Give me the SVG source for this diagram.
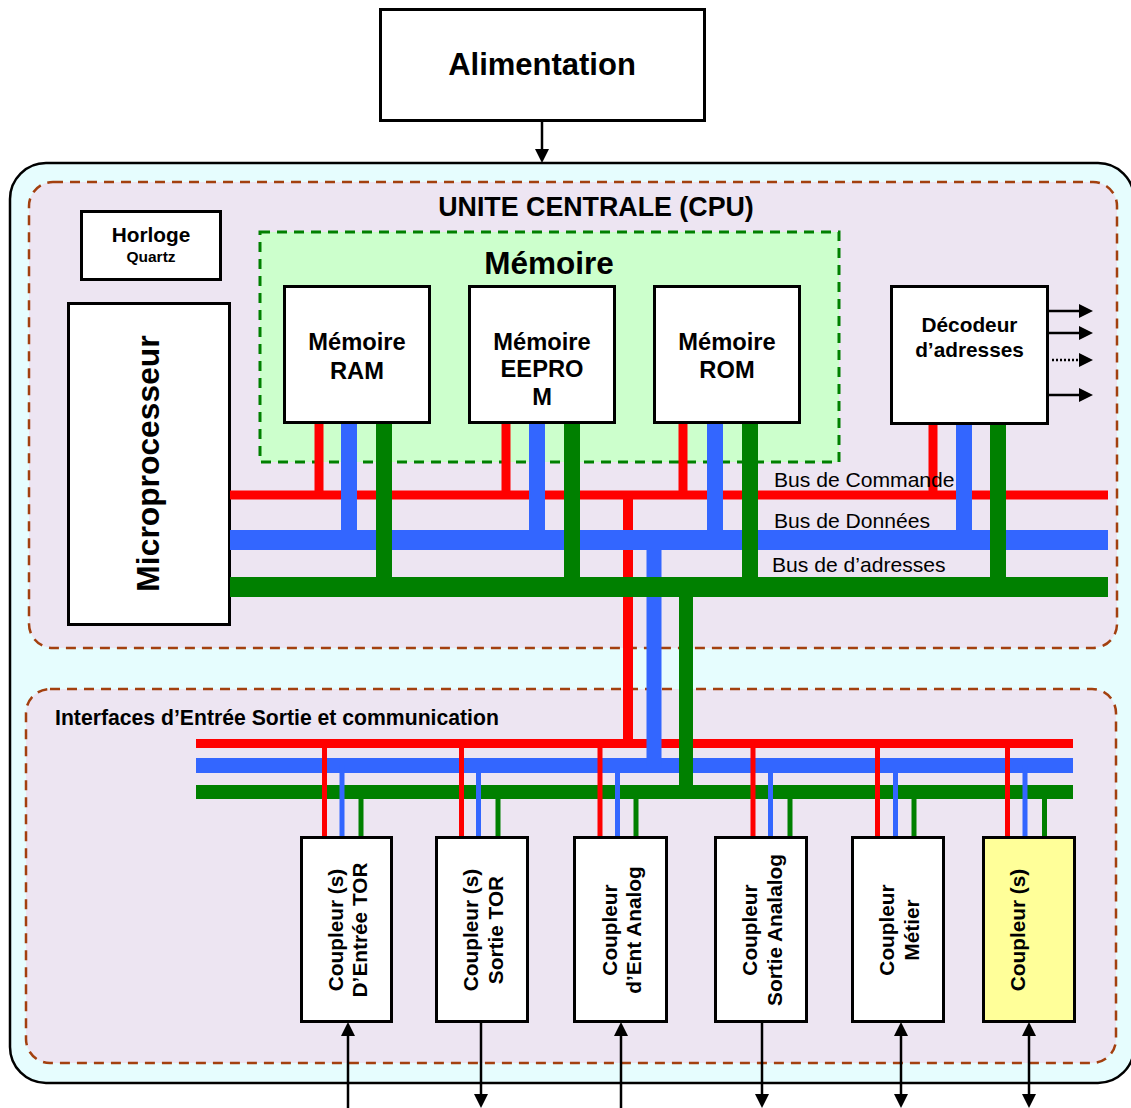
<svg xmlns="http://www.w3.org/2000/svg" width="1131" height="1108" viewBox="0 0 1131 1108">
  <defs>
    <marker id="head" viewBox="0 0 14 14" refX="1" refY="7" markerWidth="14" markerHeight="14" markerUnits="userSpaceOnUse" orient="auto-start-reverse">
      <path d="M0,0 L14,7 L0,14 z" fill="#000"/>
    </marker>
    <style>
      text { font-family: "Liberation Sans", Arial, sans-serif; fill: #000; }
      .b { font-weight: bold; }
      .mid { text-anchor: middle; }
      .box { fill: #fff; stroke: #000; stroke-width: 3; }
      .zone { fill: #EDE5F2; stroke: #A3400F; stroke-width: 2.5; stroke-dasharray: 10 7; }
      .arrow { fill: none; stroke: #000; stroke-width: 2.5; marker-end: url(#head); }
      .both { marker-start: url(#head); }
      .r { stroke: #FF0000; fill: none; }
      .bl { stroke: #3366FF; fill: none; }
      .g { stroke: #008000; fill: none; }
    </style>
  </defs>

  <rect width="1131" height="1108" fill="#fff"/>

  <!-- power supply -->
  <g id="alimentation">
    <rect class="box" x="380.5" y="9.5" width="324" height="111" stroke-width="2.5"/>
    <text class="b mid" x="542" y="75" font-size="31">Alimentation</text>
  </g>

  <!-- outer frame of the controller -->
  <g id="automate">
    <rect x="10" y="163" width="1124" height="920" rx="36" fill="#E6FDFE" stroke="#000" stroke-width="2.5"/>
  </g>

  <!-- central unit zone -->
  <g id="unite-centrale">
    <rect class="zone" x="29" y="182" width="1088" height="466" rx="24"/>
    <text class="b mid" x="596" y="216" font-size="26.8">UNITE CENTRALE (CPU)</text>
  </g>

  <!-- I/O zone -->
  <g id="interfaces">
    <rect class="zone" x="26" y="689" width="1090" height="374" rx="24"/>
    <text class="b" x="55" y="725" font-size="21.2">Interfaces d’Entrée Sortie et communication</text>
  </g>

  <g id="horloge">
    <rect class="box" x="81.5" y="211.5" width="139" height="68"/>
    <text class="b mid" x="151" y="242" font-size="20.8">Horloge</text>
    <text class="b mid" x="151" y="262" font-size="15.5">Quartz</text>
  </g>

  <g id="memoire">
    <rect x="260" y="232" width="579" height="230" fill="#CCFFCC" stroke="#008000" stroke-width="3" stroke-dasharray="10 7"/>
    <text class="b mid" x="549" y="274" font-size="31.5">Mémoire</text>
  </g>

  <g id="microprocesseur">
    <rect class="box" x="68.5" y="303.5" width="161" height="321"/>
    <text class="b mid" font-size="31.8" transform="translate(159 463.5) rotate(-90)">Microprocesseur</text>
  </g>

  <!-- bus wiring -->
  <g id="connecteurs">
    <!-- I/O buses -->
    <line class="r" x1="196" y1="743.5" x2="1073" y2="743.5" stroke-width="9"/>
    <line class="bl" x1="196" y1="765.5" x2="1073" y2="765.5" stroke-width="15"/>
    <line class="g" x1="196" y1="792" x2="1073" y2="792" stroke-width="14"/>

    <!-- coupler taps -->
    <g stroke-width="5">
      <path class="r" d="M324.5,743 V837 M461.5,743 V837 M600,743 V837 M753,743 V837 M877.5,743 V837 M1007.5,743 V837"/>
      <path class="bl" d="M342,765 V837 M478.5,765 V837 M617.5,765 V837 M770.5,765 V837 M895.5,765 V837 M1025,765 V837"/>
      <path class="g" d="M361,792 V837 M498,792 V837 M636,792 V837 M790,792 V837 M914,792 V837 M1044.5,792 V837"/>
    </g>

    <!-- links between CPU buses and I/O buses -->
    <line class="r" x1="628" y1="495" x2="628" y2="744" stroke-width="10"/>
    <line class="bl" x1="654" y1="540" x2="654" y2="766" stroke-width="15"/>
    <line class="g" x1="686" y1="587" x2="686" y2="786" stroke-width="14"/>

    <!-- CPU buses -->
    <line class="r" x1="230" y1="495" x2="1108" y2="495" stroke-width="9"/>
    <line class="bl" x1="230" y1="540" x2="1108" y2="540" stroke-width="20"/>
    <line class="g" x1="230" y1="587" x2="1108" y2="587" stroke-width="20"/>

    <!-- memory and decoder taps -->
    <path class="r" stroke-width="9" d="M319,423 V496 M506,423 V496 M683,423 V496 M933,423 V496"/>
    <path class="bl" stroke-width="16" d="M349,423 V541 M537,423 V541 M715,423 V541 M964,423 V541"/>
    <path class="g" stroke-width="16" d="M384,423 V588 M572,423 V588 M750,423 V588 M998,423 V588"/>

    <!-- decoder outputs -->
    <path class="arrow" stroke-width="2" d="M1048,311 H1080"/>
    <path class="arrow" stroke-width="2" d="M1048,333 H1080"/>
    <path class="arrow" stroke-width="2" stroke-dasharray="2 2" d="M1052,360 H1080"/>
    <path class="arrow" stroke-width="2" d="M1048,395 H1080"/>

    <!-- power feed -->
    <path class="arrow" d="M542,121 V150"/>

    <!-- field wiring -->
    <path class="arrow" d="M348,1108 V1035"/>
    <path class="arrow" d="M481,1022 V1095"/>
    <path class="arrow" d="M621,1108 V1035"/>
    <path class="arrow" d="M762,1022 V1095"/>
    <path class="arrow both" d="M901,1035 V1095"/>
    <path class="arrow both" d="M1029,1035 V1095"/>
  </g>

  <text x="774" y="487" font-size="21.1">Bus de Commande</text>
  <text x="774" y="528" font-size="21.1">Bus de Données</text>
  <text x="772" y="572" font-size="21.1">Bus de d’adresses</text>

  <g id="ram">
    <rect class="box" x="284.5" y="286.5" width="145" height="136"/>
    <text class="b mid" x="357" y="350" font-size="23.7">Mémoire</text>
    <text class="b mid" x="357" y="379" font-size="23.7">RAM</text>
  </g>

  <g id="eeprom">
    <rect class="box" x="469.5" y="286.5" width="145" height="136"/>
    <text class="b mid" x="542" y="350" font-size="23.7">Mémoire</text>
    <text class="b mid" x="542" y="377" font-size="23.7">EEPRO</text>
    <text class="b mid" x="542" y="405" font-size="23.7">M</text>
  </g>

  <g id="rom">
    <rect class="box" x="654.5" y="286.5" width="145" height="136"/>
    <text class="b mid" x="727" y="350" font-size="23.7">Mémoire</text>
    <text class="b mid" x="727" y="378" font-size="23.7">ROM</text>
  </g>

  <g id="decodeur">
    <rect class="box" x="891.5" y="286.5" width="156" height="137"/>
    <text class="b mid" x="969.5" y="332" font-size="20.8">Décodeur</text>
    <text class="b mid" x="969.5" y="357" font-size="20.8">d’adresses</text>
  </g>

  <!-- couplers -->
  <g id="coupleur-entree-tor">
    <rect class="box" x="301.5" y="837.5" width="90" height="184"/>
    <text class="b mid" font-size="20.8" transform="translate(342.5 930) rotate(-90)">Coupleur (s)<tspan x="0" dy="24.5">D’Entrée TOR</tspan></text>
  </g>

  <g id="coupleur-sortie-tor">
    <rect class="box" x="436.5" y="837.5" width="91" height="184"/>
    <text class="b mid" font-size="20.8" transform="translate(478 930) rotate(-90)">Coupleur (s)<tspan x="0" dy="24.5">Sortie TOR</tspan></text>
  </g>

  <g id="coupleur-ent-analog">
    <rect class="box" x="574.5" y="837.5" width="92" height="184"/>
    <text class="b mid" font-size="20.8" transform="translate(616.5 930) rotate(-90)">Coupleur<tspan x="0" dy="24.5">d’Ent Analog</tspan></text>
  </g>

  <g id="coupleur-sortie-analog">
    <rect class="box" x="715.5" y="837.5" width="91" height="184"/>
    <text class="b mid" font-size="20.8" transform="translate(757 930) rotate(-90)">Coupleur<tspan x="0" dy="24.5">Sortie Analalog</tspan></text>
  </g>

  <g id="coupleur-metier">
    <rect class="box" x="852.5" y="837.5" width="91" height="184"/>
    <text class="b mid" font-size="20.8" transform="translate(894 930) rotate(-90)">Coupleur<tspan x="0" dy="24.5">Métier</tspan></text>
  </g>

  <g id="coupleur-autre">
    <rect class="box" x="983.5" y="837.5" width="91" height="184" style="fill:#FFFF99"/>
    <text class="b mid" font-size="20.8" transform="translate(1025 930) rotate(-90)">Coupleur (s)</text>
  </g>
</svg>
